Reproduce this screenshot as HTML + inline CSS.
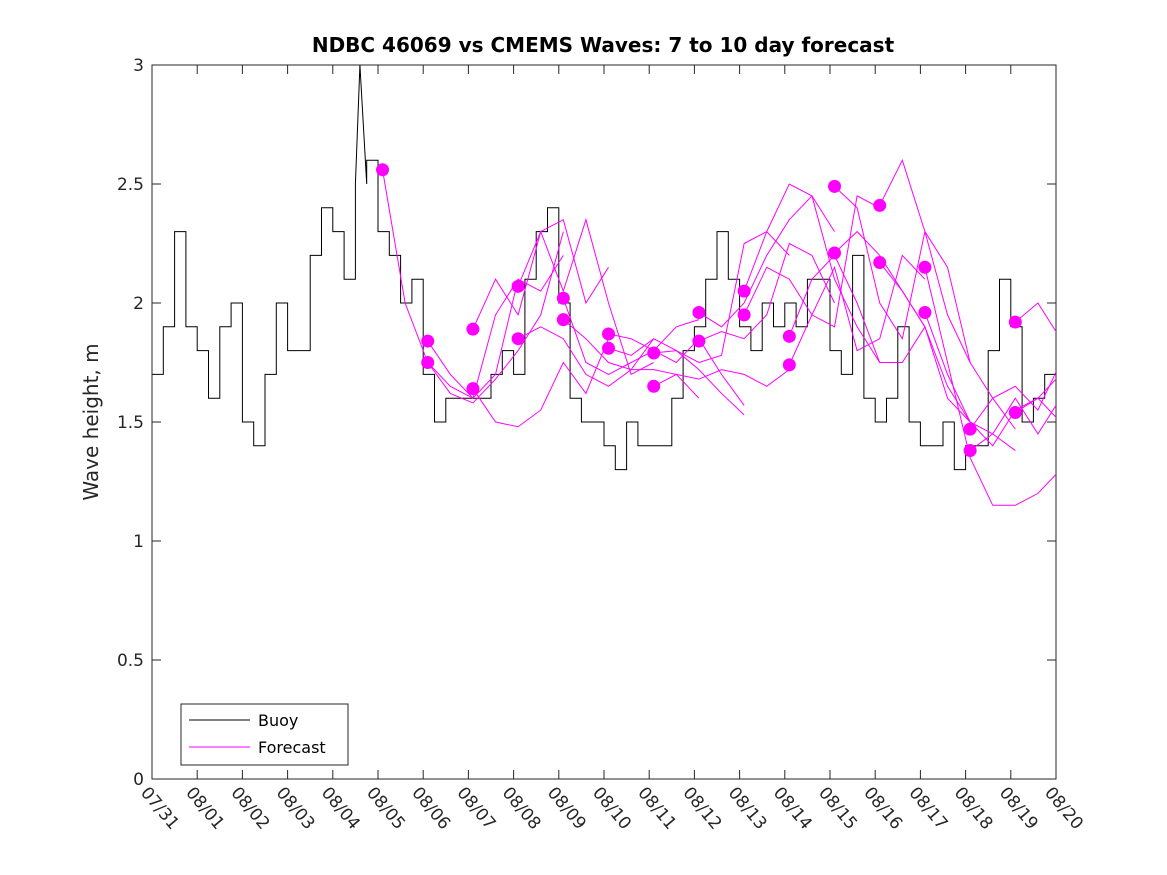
<!DOCTYPE html>
<html><head><meta charset="utf-8"><style>
html,body{margin:0;padding:0;background:#fff;}
svg{display:block;font-family:"DejaVu Sans","Liberation Sans",sans-serif;}
</style></head><body>
<svg id="chart" width="1167" height="875">
<rect width="1167" height="875" fill="#fff"/>
<defs><clipPath id="clip"><rect x="152" y="60" width="904" height="719"/></clipPath></defs>
<text x="603" y="52" text-anchor="middle" font-size="20" font-weight="bold" fill="#000">NDBC 46069 vs CMEMS Waves: 7 to 10 day forecast</text>
<text transform="translate(98,422) rotate(-90)" text-anchor="middle" font-size="20" fill="#262626">Wave height, m</text>
<g id="axes"></g>
<g id="series" clip-path="url(#clip)"></g>
<g id="legend">
<rect x="181" y="704" width="167" height="61" fill="#fff" stroke="#262626" stroke-width="1"/>
<line x1="189" y1="720" x2="250" y2="720" stroke="#000" stroke-width="1"/>
<text x="258" y="726" font-size="16" fill="#000">Buoy</text>
<line x1="189" y1="747" x2="250" y2="747" stroke="#f0f" stroke-width="1"/>
<text x="258" y="753" font-size="16" fill="#000">Forecast</text>
</g>
</svg>
<script>
const xTickLabels=["07/31","08/01","08/02","08/03","08/04","08/05","08/06","08/07","08/08","08/09","08/10","08/11","08/12","08/13","08/14","08/15","08/16","08/17","08/18","08/19","08/20"];
const yTicks=[0,0.5,1,1.5,2,2.5,3];
const yTickLabels=["0","0.5","1","1.5","2","2.5","3"];
// buoy values every 6 hours from 07/31 00:00
const buoy=[1.7,1.9,2.3,1.9,1.8,1.6,1.9,2.0,1.5,1.4,1.7,2.0,1.8,1.8,2.2,2.4,2.3,2.1,2.5,2.6,2.3,2.2,2.0,2.1,1.7,1.5,1.6,1.6,1.6,1.6,1.7,1.8,1.7,2.1,2.3,2.4,2.0,1.6,1.5,1.5,1.4,1.3,1.5,1.4,1.4,1.4,1.6,1.8,1.9,2.1,2.3,2.1,1.9,1.8,2.0,1.9,2.0,1.9,2.1,2.1,1.8,1.7,2.2,1.6,1.5,1.6,1.9,1.5,1.4,1.4,1.5,1.3,1.4,1.4,1.8,2.1,1.9,1.5,1.6,1.7,1.7,1.8];
const buoyPeakDay=4.6, buoyPeakValue=3.0;
// forecasts: start day (days since 07/31) and values every 0.5 day
const fcStart=[5.1,6.1,6.1,7.1,7.1,8.1,8.1,9.1,9.1,10.1,10.1,11.1,11.1,12.1,12.1,13.1,13.1,14.1,14.1,15.1,15.1,16.1,16.1,17.1,17.1,18.1,18.1,19.1,19.1];
const fcValues=[
[2.56,2.0,1.75,1.65,1.6,1.95,2.1],
[1.84,1.7,1.6,1.7,2.1,2.05,2.2],
[1.75,1.62,1.58,1.68,1.8,1.95,2.3],
[1.89,2.1,1.95,2.3,2.35,2.0,2.15],
[1.64,1.5,1.48,1.55,1.75,1.62,1.85],
[2.07,2.3,2.05,2.35,2.0,1.7,1.75],
[1.85,1.9,1.85,1.7,1.65,1.72,1.85],
[2.02,1.75,1.7,1.75,1.8,1.9,1.93],
[1.93,1.85,1.75,1.72,1.72,1.7,1.6],
[1.87,1.85,1.8,1.75,1.85,1.7,1.57],
[1.81,1.78,1.85,1.8,1.72,1.62,1.53],
[1.79,1.8,1.75,1.78,2.25,2.3,2.2],
[1.65,1.7,1.68,1.72,1.7,1.65,1.72],
[1.96,1.9,2.0,2.2,2.35,2.45,2.3],
[1.84,1.88,1.85,1.95,2.25,2.2,2.0],
[2.05,2.3,2.5,2.45,2.1,1.9,1.75],
[1.95,2.15,2.1,1.95,1.9,2.45,2.4],
[1.86,2.1,2.2,2.0,1.75,1.75,1.9],
[1.74,1.95,2.15,1.8,1.85,2.2,2.1],
[2.49,2.4,2.0,1.85,2.3,2.15,1.75],
[2.21,2.3,2.2,2.05,1.9,1.6,1.5],
[2.41,2.6,2.3,1.95,1.75,1.6,1.47],
[2.17,2.05,1.9,1.65,1.5,1.45,1.38],
[2.15,1.75,1.35,1.15,1.15,1.2,1.3],
[1.96,1.7,1.5,1.4,1.55,1.6,1.7],
[1.47,1.6,1.65,1.55,1.75,1.82,1.9],
[1.38,1.45,1.6,1.45,1.6,1.7,1.85],
[1.92,2.0,1.85,1.95],
[1.54,1.6,1.5,1.8]
];
const X0=152,X1=1056,Y0=779,Y1=65,NDAYS=20,YMAX=3;
const xs=d=>X0+(X1-X0)*d/NDAYS;
const ys=v=>Y0-(Y0-Y1)*v/YMAX;
const NS="http://www.w3.org/2000/svg";
function mk(tag,attrs,parent){const e=document.createElementNS(NS,tag);for(const k in attrs)e.setAttribute(k,attrs[k]);parent.appendChild(e);return e;}
const axes=document.getElementById('axes');
const frame=mk('rect',{x:X0,y:Y1,width:X1-X0,height:Y0-Y1,fill:'none',stroke:'#262626','stroke-width':1},axes);


xTickLabels.forEach((l,i)=>{
  const x=xs(i);
  mk('line',{x1:x,y1:Y0,x2:x,y2:Y0-9,stroke:'#262626'},axes);
  mk('line',{x1:x,y1:Y1,x2:x,y2:Y1+9,stroke:'#262626'},axes);
  const t=mk('text',{transform:`translate(${x-12},${Y0+14}) rotate(50)`,'font-size':17,fill:'#262626'},axes);
  t.textContent=l;
  
  
});
yTicks.forEach((v,i)=>{
  const y=ys(v);
  mk('line',{x1:X0,y1:y,x2:X0+9,y2:y,stroke:'#262626'},axes);
  mk('line',{x1:X1,y1:y,x2:X1-9,y2:y,stroke:'#262626'},axes);
  const t=mk('text',{x:X0-8,y:y+6,'text-anchor':'end','font-size':17,fill:'#262626'},axes);
  t.textContent=yTickLabels[i];
  
  
});
const series=document.getElementById('series');
let pts=[];
buoy.forEach((v,i)=>{
  const d0=i*0.25,d1=(i+1)*0.25;
  if(buoyPeakDay>=d0&&buoyPeakDay<d1){pts.push([xs(d0),ys(v)],[xs(buoyPeakDay),ys(buoyPeakValue)],[xs(d1),ys(v)]);}
  else{pts.push([xs(d0),ys(v)],[xs(d1),ys(v)]);}
});
const bl=mk('polyline',{points:pts.map(p=>p.join(',')).join(' '),fill:'none',stroke:'#000','stroke-width':1},series);


fcValues.forEach((vals,k)=>{
  const p=vals.map((v,j)=>xs(fcStart[k]+j*0.5)+','+ys(v)).join(' ');
  const l=mk('polyline',{points:p,fill:'none',stroke:'#f0f','stroke-width':1},series);
  
  
});
fcValues.forEach((vals,k)=>{
  const c=mk('circle',{cx:xs(fcStart[k]),cy:ys(vals[0]),r:6.5,fill:'#f0f'},series);
  
  
});
</script>
</body></html>
